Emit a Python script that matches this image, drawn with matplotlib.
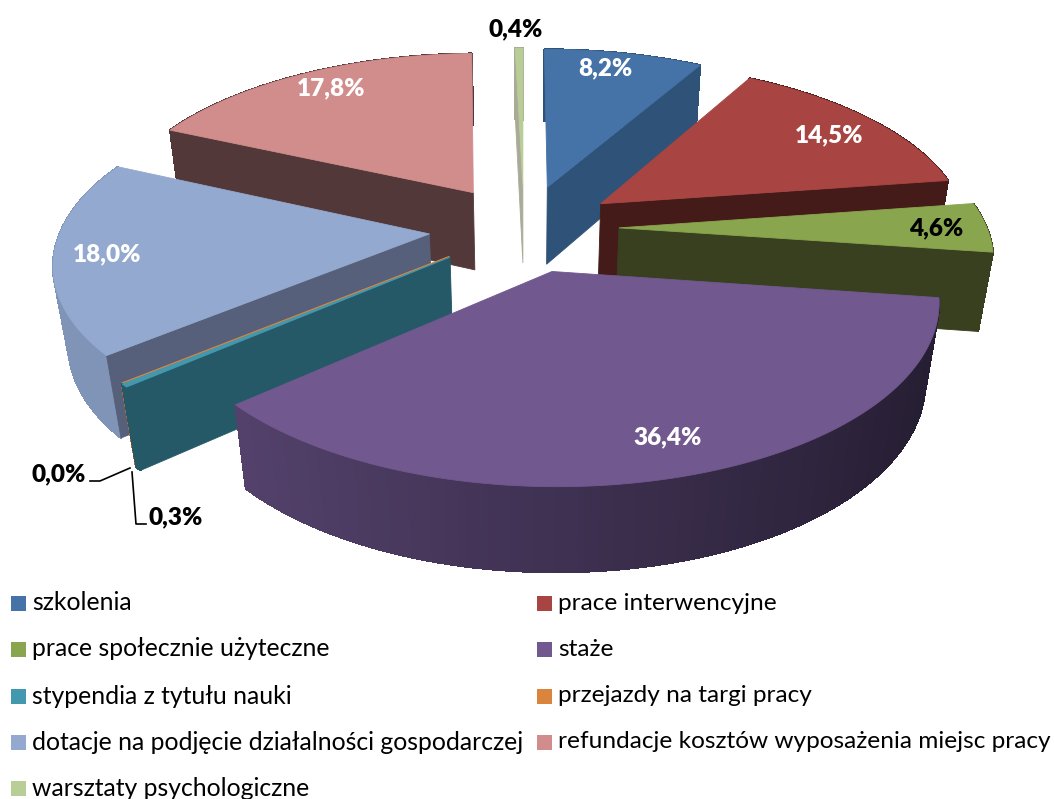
# pie3d.py
import numpy as np
import matplotlib
matplotlib.use("Agg")
import matplotlib.pyplot as plt
from matplotlib.patches import Polygon, Rectangle

labels = ["szkolenia", "prace interwencyjne", "prace społecznie użyteczne", "staże",
          "stypendia z tytułu nauki", "przejazdy na targi pracy",
          "dotacje na podjęcie działalności gospodarczej",
          "refundacje kosztów wyposażenia miejsc pracy", "warsztaty psychologiczne"]
values = [8.2, 14.5, 4.6, 36.4, 0.3, 0.0, 18.0, 17.8, 0.4]
value_text = ["8,2%", "14,5%", "4,6%", "36,4%", "0,3%", "0,0%", "18,0%", "17,8%", "0,4%"]

top_colors = ["#4573a7", "#a84543", "#89a54e", "#71588f", "#4198af", "#db843d", "#93a9cf", "#d18d8c", "#b9cd96"]
cut_colors = ["#2f5278", "#451b19", "#384020", "#2f2540", "#255967", "#b5672a", "#56607a", "#523838", "#a9ab98"]
# outer wall: left and right end colour
wall_left = ["#2f5278", "#451b19", "#384020", "#5c4876", "#255967", "#b5672a", "#8094b8", "#523838", "#a9ab98"]
wall_right = ["#2f5278", "#451b19", "#384020", "#261e33", "#255967", "#b5672a", "#7386a8", "#523838", "#a9ab98"]

label_pos = [(605, 68), (829, 135), (936, 228), (668, 437), (176, 517), (59, 474), (107, 254), (331, 88), (516, 29)]
label_color = ["white", "white", "black", "white", "black", "black", "white", "white", "black"]

# projection settings, all in pixels of the final picture
CX, CY = 524, 228
R = 368
EXPLODE = 95
HEIGHT = 81
FY = 0.46
PERSP = 0.0004


def project(x, y, z):
    s = 1 / (1 + PERSP * y + PERSP * z)
    return CX + x * s, CY - FY * y * s + z * s


def mix(c1, c2, t):
    a = np.array(matplotlib.colors.to_rgb(c1))
    b = np.array(matplotlib.colors.to_rgb(c2))
    return tuple(a + (b - a) * t)


fig = plt.figure(figsize=(10.54, 7.99), dpi=100)
ax = fig.add_axes([0, 0, 1, 1])
ax.set_xlim(0, 1054)
ax.set_ylim(799, 0)
ax.axis("off")

total = sum(values)
edges = np.cumsum([0] + values) / total * 2 * np.pi

slices = []
for i in range(len(values)):
    mid = (edges[i] + edges[i + 1]) / 2
    ox, oy = EXPLODE * np.sin(mid), EXPLODE * np.cos(mid)
    slices.append((oy, i, ox))

# paint from the back to the front
for oy, i, ox in sorted(slices, key=lambda s: -s[0]):
    n = max(int((edges[i + 1] - edges[i]) * 60), 2)
    ang = np.linspace(edges[i], edges[i + 1], n)
    xs = ox + R * np.sin(ang)
    ys = oy + R * np.cos(ang)

    # outer wall, piece by piece so the colour can run from left to right
    for k in range(n - 1):
        quad = [project(xs[k], ys[k], 0), project(xs[k + 1], ys[k + 1], 0),
                project(xs[k + 1], ys[k + 1], HEIGHT), project(xs[k], ys[k], HEIGHT)]
        t = np.clip((xs[k] + R) / (2 * R), 0, 1)
        col = mix(wall_left[i], wall_right[i], t)
        ax.add_patch(Polygon(quad, closed=True, fc=col, ec=col, lw=0.8, antialiased=False))

    # cut faces, only the ones turned to the viewer
    for k, sign in [(0, -1), (-1, 1)]:
        if np.sin(ang[k]) * sign <= 0:
            continue
        face = [project(ox, oy, 0), project(xs[k], ys[k], 0),
                project(xs[k], ys[k], HEIGHT), project(ox, oy, HEIGHT)]
        ax.add_patch(Polygon(face, closed=True, fc=cut_colors[i], ec=cut_colors[i], lw=0.6))

    # the empty slice only shows as a thin line
    line_w = 1.5 if values[i] < 0.1 else 0.6
    top = [project(ox, oy, 0)] + [project(a, b, 0) for a, b in zip(xs, ys)]
    ax.add_patch(Polygon(top, closed=True, fc=top_colors[i], ec=top_colors[i], lw=line_w))

for txt, pos, col in zip(value_text, label_pos, label_color):
    ax.text(pos[0], pos[1], txt, color=col, fontsize=17.5, fontweight="heavy", family="Lato",
            ha="center", va="center")

# leader lines of the two small slices
ax.plot([90, 100, 130], [481, 481, 468], color="black", lw=1.2)
ax.plot([132, 136, 146], [472, 524, 524], color="black", lw=1.2)

# legend
rows = [603, 649, 696, 742, 788]
for i, name in enumerate(labels):
    row = rows[i // 2]
    x0 = 11 if i % 2 == 0 else 537
    size = 17.85 if i % 2 == 0 else 17.6
    ax.add_patch(Rectangle((x0, row - 7), 15, 15, fc=top_colors[i], ec="none"))
    ax.text(x0 + 21, row, name, fontsize=size, family="Lato", color="black", va="center", ha="left")

fig.savefig("out.png", dpi=100)
